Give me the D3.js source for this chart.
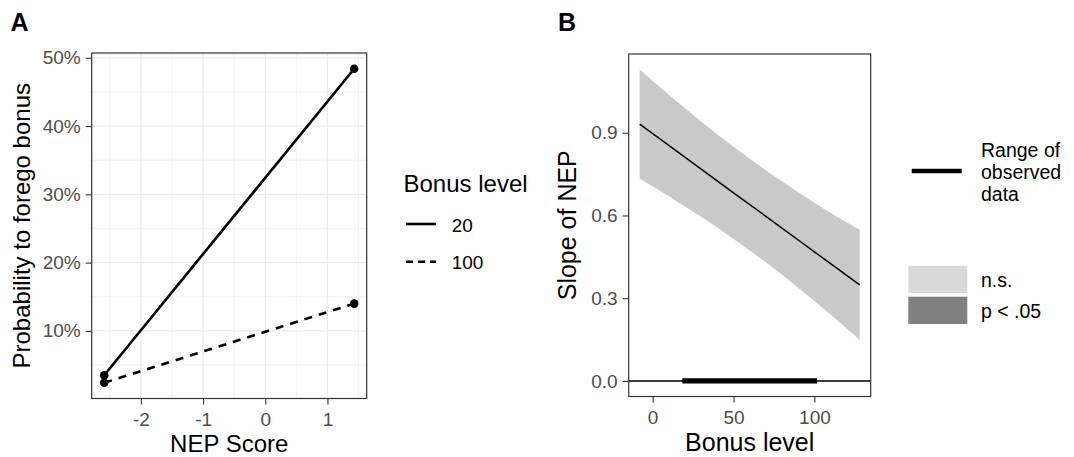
<!DOCTYPE html>
<html><head><meta charset="utf-8">
<script src="https://cdn.jsdelivr.net/npm/d3@7"></script>
<style>body{margin:0;background:#fff} svg{display:block;font-family:"Liberation Sans", Arial, sans-serif}</style>
</head><body><svg id="c" width="1074" height="457"></svg>
<script>
// ---- Panel A data ----
const nepScore = [-2.59, 1.43];
const bonusLevels = ["20", "100"];
const prob20 = [0.035, 0.484];
const prob100 = [0.024, 0.140];
const probTicks = [0.1, 0.2, 0.3, 0.4, 0.5];
const nepTicks = [-2, -1, 0, 1];

// ---- Panel B data ----
const bonusGrid = [-8, 10, 30, 50, 70, 90, 110, 128];
const slopeFit  = [0.931, 0.854, 0.768, 0.682, 0.597, 0.511, 0.425, 0.348];
const slopeLow  = [0.733, 0.670, 0.595, 0.515, 0.430, 0.338, 0.241, 0.148];
const slopeHigh = [1.129, 1.038, 0.941, 0.849, 0.764, 0.684, 0.609, 0.548];
const observedRange = [20, 100];
const slopeTicks = [0, 0.3, 0.6, 0.9];
const bonusTicks = [0, 50, 100];
const sigLabels = ["n.s.", "p < .05"];
const rangeLabel = ["Range of", "observed", "data"];

const svg = d3.select("#c");
const FONT_TICK = 19, TICK_COL = "#4d4d4d", AX_COL = "#333333";

function expand(ext, m = 0.05) { const r = ext[1] - ext[0]; return [ext[0] - r * m, ext[1] + r * m]; }

function styleAxis(g) {
  g.select(".domain").remove();
  g.selectAll(".tick line").attr("stroke", AX_COL).attr("stroke-width", 1.1);
  g.selectAll(".tick text").attr("fill", TICK_COL).attr("font-size", FONT_TICK)
    .attr("font-family", '"Liberation Sans", Arial, sans-serif');
  g.attr("font-size", null).attr("font-family", null);
}

// ================= Panel A =================
const xA = d3.scaleLinear().domain(expand(d3.extent(nepScore))).range([91.7, 366.7]);
const yA = d3.scaleLinear().domain(expand(d3.extent([...prob20, ...prob100]))).range([398.5, 53]);
const gA = svg.append("g");

// grid
const xMinorA = nepTicks.map(d => d - 0.5).concat([nepTicks[nepTicks.length - 1] + 0.5]).filter(d => d > xA.domain()[0] && d < xA.domain()[1]);
const yMinorA = probTicks.map(d => d - 0.05).filter(d => d > yA.domain()[0] && d < yA.domain()[1]);
gA.selectAll(".vminor").data(xMinorA).join("line")
  .attr("x1", d => xA(d)).attr("x2", d => xA(d)).attr("y1", yA.range()[0]).attr("y2", yA.range()[1])
  .attr("stroke", "#ebebeb").attr("stroke-width", 0.6);
gA.selectAll(".hminor").data(yMinorA).join("line")
  .attr("y1", d => yA(d)).attr("y2", d => yA(d)).attr("x1", xA.range()[0]).attr("x2", xA.range()[1])
  .attr("stroke", "#ebebeb").attr("stroke-width", 0.6);
gA.selectAll(".vmajor").data(nepTicks).join("line")
  .attr("x1", d => xA(d)).attr("x2", d => xA(d)).attr("y1", yA.range()[0]).attr("y2", yA.range()[1])
  .attr("stroke", "#ebebeb").attr("stroke-width", 1.2);
gA.selectAll(".hmajor").data(probTicks).join("line")
  .attr("y1", d => yA(d)).attr("y2", d => yA(d)).attr("x1", xA.range()[0]).attr("x2", xA.range()[1])
  .attr("stroke", "#ebebeb").attr("stroke-width", 1.2);

const seriesA = [
  { key: bonusLevels[0], vals: prob20, dash: null },
  { key: bonusLevels[1], vals: prob100, dash: "8,7" }
];
const lineA = d3.line().x((d, i) => xA(nepScore[i])).y(d => yA(d));
seriesA.forEach(s => {
  gA.append("path").attr("d", lineA(s.vals)).attr("fill", "none").attr("stroke", "#000")
    .attr("stroke-width", 2.6).attr("stroke-dasharray", s.dash);
});
seriesA.forEach(s => {
  gA.selectAll(null).data(s.vals).join("circle")
    .attr("cx", (d, i) => xA(nepScore[i])).attr("cy", d => yA(d)).attr("r", 4.3).attr("fill", "#000");
});
gA.append("rect").attr("x", xA.range()[0]).attr("y", yA.range()[1])
  .attr("width", xA.range()[1] - xA.range()[0]).attr("height", yA.range()[0] - yA.range()[1])
  .attr("fill", "none").attr("stroke", AX_COL).attr("stroke-width", 1.2);

gA.append("g").attr("transform", `translate(${xA.range()[0]},0)`)
  .call(d3.axisLeft(yA).tickValues(probTicks).tickFormat(d3.format(".0%")).tickSize(6).tickPadding(5))
  .call(styleAxis);
gA.append("g").attr("transform", `translate(0,${yA.range()[0]})`)
  .call(d3.axisBottom(xA).tickValues(nepTicks).tickFormat(d3.format("d")).tickSize(6).tickPadding(8))
  .call(styleAxis);
gA.selectAll(".tick text").filter(function(){return this.textContent.startsWith("−");})
  .text(function(){return this.textContent.replace("−","-");});

gA.append("text").attr("x", (xA.range()[0] + xA.range()[1]) / 2).attr("y", 452)
  .attr("text-anchor", "middle").attr("font-size", 24).attr("fill", "#000").text("NEP Score");
gA.append("text").attr("transform", `translate(30,${(yA.range()[0] + yA.range()[1]) / 2}) rotate(-90)`)
  .attr("text-anchor", "middle").attr("font-size", 24).attr("fill", "#000").text("Probability to forego bonus");
svg.append("text").attr("x", 10.5).attr("y", 30.5).attr("font-size", 25).attr("font-weight", "bold").text("A");

// legend A
const legA = svg.append("g");
legA.append("text").attr("x", 403.5).attr("y", 191.7).attr("font-size", 24).text("Bonus level");
seriesA.forEach((s, i) => {
  const cy = 224 + i * 37.7;
  legA.append("line").attr("x1", 406).attr("x2", 436).attr("y1", cy).attr("y2", cy)
    .attr("stroke", "#000").attr("stroke-width", 2.6).attr("stroke-dasharray", s.dash ? "7,5" : null);
  legA.append("text").attr("x", 451.7).attr("y", cy + 7.5).attr("font-size", FONT_TICK).text(s.key);
});

// ================= Panel B =================
const xB = d3.scaleLinear().domain(expand(d3.extent(bonusGrid))).range([628.7, 870.7]);
const yB = d3.scaleLinear().domain(expand([Math.min(0, d3.min(slopeLow)), d3.max(slopeHigh)])).range([396.5, 54]);
const gB = svg.append("g");

const area = d3.area().x((d, i) => xB(bonusGrid[i])).y0((d, i) => yB(slopeLow[i])).y1((d, i) => yB(slopeHigh[i]))
  .curve(d3.curveMonotoneX);
gB.append("path").attr("d", area(bonusGrid)).attr("fill", "#c9c9c9");
gB.append("path").attr("d", d3.line().x((d, i) => xB(bonusGrid[i])).y(d => yB(d))(slopeFit))
  .attr("fill", "none").attr("stroke", "#000").attr("stroke-width", 1.5);
gB.append("line").attr("x1", xB.range()[0]).attr("x2", xB.range()[1]).attr("y1", yB(0)).attr("y2", yB(0))
  .attr("stroke", "#000").attr("stroke-width", 1.5);
gB.append("line").attr("x1", xB(observedRange[0])).attr("x2", xB(observedRange[1])).attr("y1", yB(0)).attr("y2", yB(0))
  .attr("stroke", "#000").attr("stroke-width", 5.3).attr("stroke-linecap", "square");
gB.append("rect").attr("x", xB.range()[0]).attr("y", yB.range()[1])
  .attr("width", xB.range()[1] - xB.range()[0]).attr("height", yB.range()[0] - yB.range()[1])
  .attr("fill", "none").attr("stroke", AX_COL).attr("stroke-width", 1.2);

gB.append("g").attr("transform", `translate(${xB.range()[0]},0)`)
  .call(d3.axisLeft(yB).tickValues(slopeTicks).tickFormat(d3.format(".1f")).tickSize(6).tickPadding(5))
  .call(styleAxis);
gB.append("g").attr("transform", `translate(0,${yB.range()[0]})`)
  .call(d3.axisBottom(xB).tickValues(bonusTicks).tickFormat(d3.format("d")).tickSize(6).tickPadding(8))
  .call(styleAxis);

gB.append("text").attr("x", (xB.range()[0] + xB.range()[1]) / 2).attr("y", 451)
  .attr("text-anchor", "middle").attr("font-size", 25).attr("fill", "#000").text("Bonus level");
gB.append("text").attr("transform", `translate(575.5,${(yB.range()[0] + yB.range()[1]) / 2}) rotate(-90)`)
  .attr("text-anchor", "middle").attr("font-size", 25).attr("fill", "#000").text("Slope of NEP");
svg.append("text").attr("x", 558).attr("y", 30.5).attr("font-size", 25).attr("font-weight", "bold").text("B");

// legend B
const legB = svg.append("g");
legB.append("line").attr("x1", 911.7).attr("x2", 961.7).attr("y1", 171).attr("y2", 171)
  .attr("stroke", "#000").attr("stroke-width", 4.6);
legB.append("text").attr("font-size", 19.5).selectAll("tspan").data(rangeLabel).join("tspan")
  .attr("x", 981).attr("y", (d, i) => 156.5 + i * 22.3).text(d => d);
const sigCols = ["#d9d9d9", "#808080"];
sigLabels.forEach((lab, i) => {
  const top = 265.7 + i * 31;
  legB.append("rect").attr("x", 908.3).attr("y", top).attr("width", 59).attr("height", 27.3).attr("fill", sigCols[i]);
  legB.append("text").attr("x", 981).attr("y", top + 21.5).attr("font-size", 19.5).text(lab);
});
</script></body></html>
